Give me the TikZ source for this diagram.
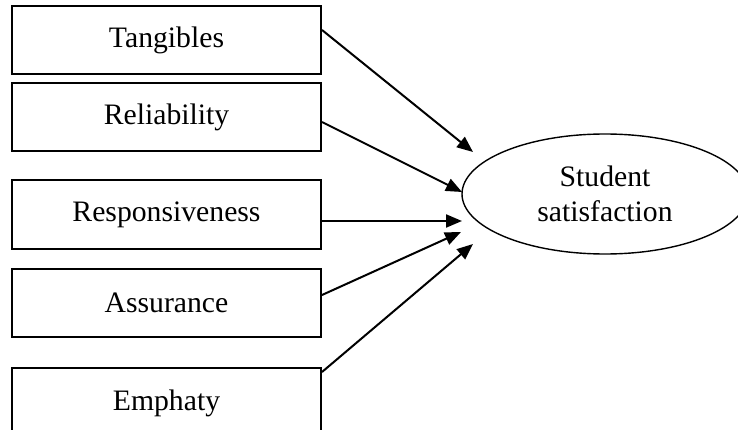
\documentclass[tikz,border=0pt]{standalone}
\usepackage{fontspec}
\setmainfont{Liberation Serif}
\usetikzlibrary{arrows.meta,shapes.geometric}
\begin{document}
\begin{tikzpicture}[x=1pt,y=-1pt,
  box/.style={draw, line width=2pt, minimum width=309pt, minimum height=68pt, inner sep=0pt,
    font=\fontsize{29.7}{34}\selectfont},
  oval/.style={draw, ellipse, line width=1.4pt, minimum width=286pt, minimum height=120pt,
    inner sep=0pt, align=center, font=\fontsize{29.7}{35}\selectfont},
  conn/.style={line width=2pt, -{Triangle[length=16pt,width=13pt]}}]
\useasboundingbox (0,0) rectangle (738,430);
\clip (0,0) rectangle (738,430);
\node[box] (tang) at (166.5,40.5) {Tangibles};
\node[box] (reli) at (166.5,117.5) {Reliability};
\node[box] (resp) at (166.5,214.5) {Responsiveness};
\node[box] (assu) at (166.5,303) {Assurance};
\node[box, minimum height=72pt] (emph) at (166.5,404) {\raisebox{7pt}{Emphaty}};
\node[oval] (sat) at (605,194) {Student\\satisfaction};
\coordinate (t1) at (473,152);
\coordinate (t2) at (462,192);
\coordinate (t3) at (462,221);
\coordinate (t4) at (461,232);
\coordinate (t5) at (473,244);
\draw[conn] (tang.east |- 0,30) -- (t1);
\draw[conn] (reli.east |- 0,122) -- (t2);
\draw[conn] (resp.east |- 0,221) -- (t3);
\draw[conn] (assu.east |- 0,295) -- (t4);
\draw[conn] (emph.east |- 0,372) -- (t5);
\end{tikzpicture}
\end{document}
